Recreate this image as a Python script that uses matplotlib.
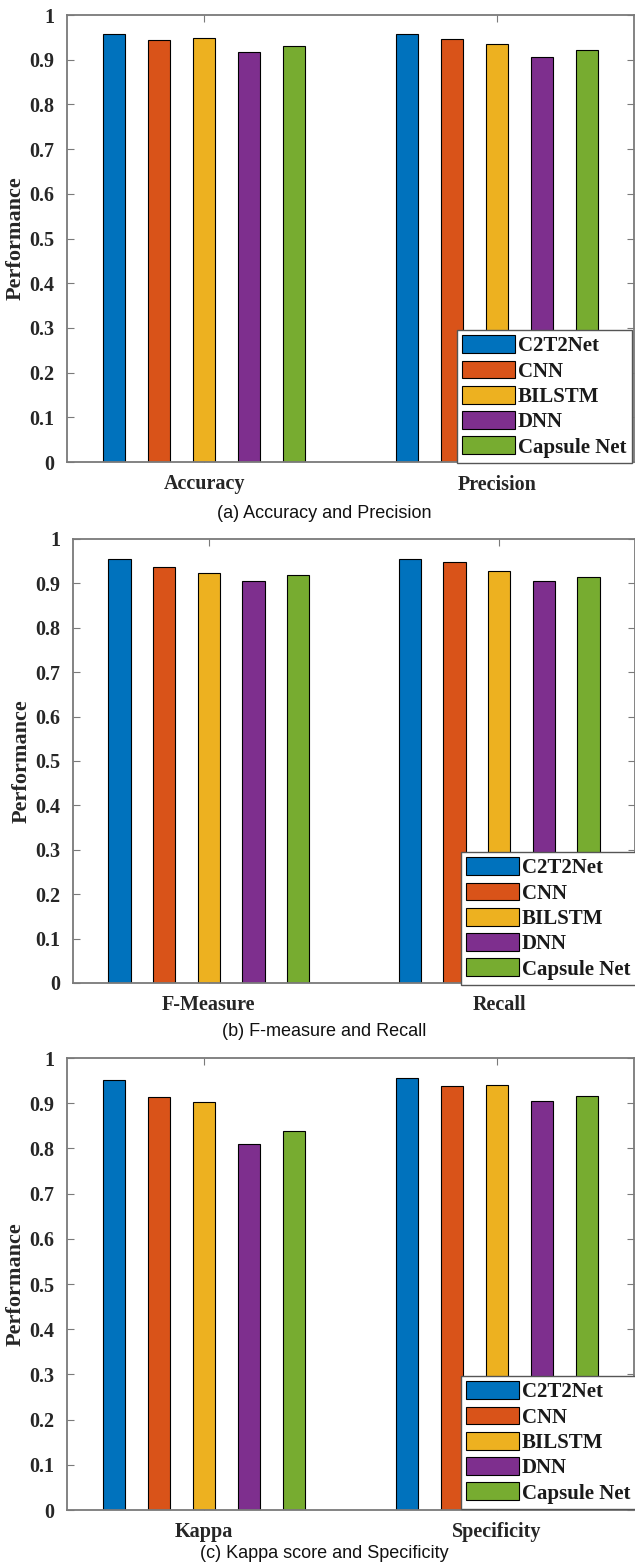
import matplotlib.pyplot as plt
import numpy as np

W, H = 635, 1566

models = ['C2T2Net', 'CNN', 'BILSTM', 'DNN', 'Capsule Net']
colors = ['#0072BD', '#D95319', '#EDB120', '#7E2F8E', '#77AC30']

# metric values, one list per metric, ordered like `models`
accuracy = [0.957, 0.944, 0.948, 0.918, 0.931]
precision = [0.957, 0.946, 0.935, 0.905, 0.922]
f_measure = [0.956, 0.938, 0.923, 0.905, 0.918]
recall = [0.956, 0.949, 0.929, 0.905, 0.914]
kappa = [0.951, 0.914, 0.903, 0.810, 0.838]
specificity = [0.955, 0.939, 0.940, 0.904, 0.915]

panels = [
    (['Accuracy', 'Precision'], [accuracy, precision], '(a) Accuracy and Precision'),
    (['F-Measure', 'Recall'], [f_measure, recall], '(b) F-measure and Recall'),
    (['Kappa', 'Specificity'], [kappa, specificity], '(c) Kappa score and Specificity'),
]

# axes boxes in pixels: left, top, right, bottom; legend top-left; caption y
boxes = [
    (67, 15, 634, 462, (457, 330), 513),
    (73, 539, 635, 983, (461, 852), 1032),
    (67, 1058, 634, 1510, (461, 1376), 1553),
]

serif = 'Liberation Serif'
txt = '#262626'
spine = '#7a7a7a'

fig = plt.figure(figsize=(W / 100, H / 100), dpi=100)

group_w = 5 / 6.5
step = group_w / 5
bar_w = step * 0.5

for (cats, vals, caption), (l, t, r, b, leg_xy, cap_y) in zip(panels, boxes):
    ax = fig.add_axes([l / W, 1 - b / H, (r - l) / W, (b - t) / H])
    x = np.arange(1, len(cats) + 1)
    for i, m in enumerate(models):
        ys = [v[i] for v in vals]
        ax.bar(x + (i - 2) * step, ys, bar_w, color=colors[i],
               edgecolor='black', linewidth=0.8, label=m, zorder=2)
    ax.set_xlim(0.532, 2.468)
    ax.set_ylim(0, 1)
    ax.set_yticks(np.arange(0, 1.01, 0.1))
    ax.set_yticklabels(['0'] + ['%.1f' % v for v in np.arange(0.1, 0.95, 0.1)] + ['1'])
    ax.set_xticks(x)
    ax.set_xticklabels(cats)
    ax.tick_params(direction='in', length=5, width=0.8, color=spine,
                   top=True, right=True, labelsize=14.5, labelcolor=txt, pad=9)
    for lab in ax.get_xticklabels() + ax.get_yticklabels():
        lab.set_family(serif)
        lab.set_fontweight('bold')
    ax.set_ylabel('Performance', family=serif, fontweight='bold', fontsize=16,
                  color=txt, labelpad=3)
    for s in ax.spines.values():
        s.set_color(spine)
        s.set_linewidth(1.3)

    leg = ax.legend(loc='upper left', bbox_to_anchor=(leg_xy[0] / W, 1 - leg_xy[1] / H),
                    bbox_transform=fig.transFigure, borderaxespad=0,
                    prop={'family': serif, 'weight': 'bold', 'size': 15},
                    handlelength=2.55, handleheight=0.95, handletextpad=0.12,
                    labelspacing=0.2, borderpad=0.25, fancybox=False,
                    framealpha=1, edgecolor='#555555')
    leg.get_frame().set_linewidth(1.0)
    for tx in leg.get_texts():
        tx.set_color('#1a1a1a')

    fig.text(0.511, 1 - cap_y / H, caption, ha='center', va='center',
             family='Liberation Sans', fontsize=13, color='#111111')

fig.savefig('out.png', dpi=100)
